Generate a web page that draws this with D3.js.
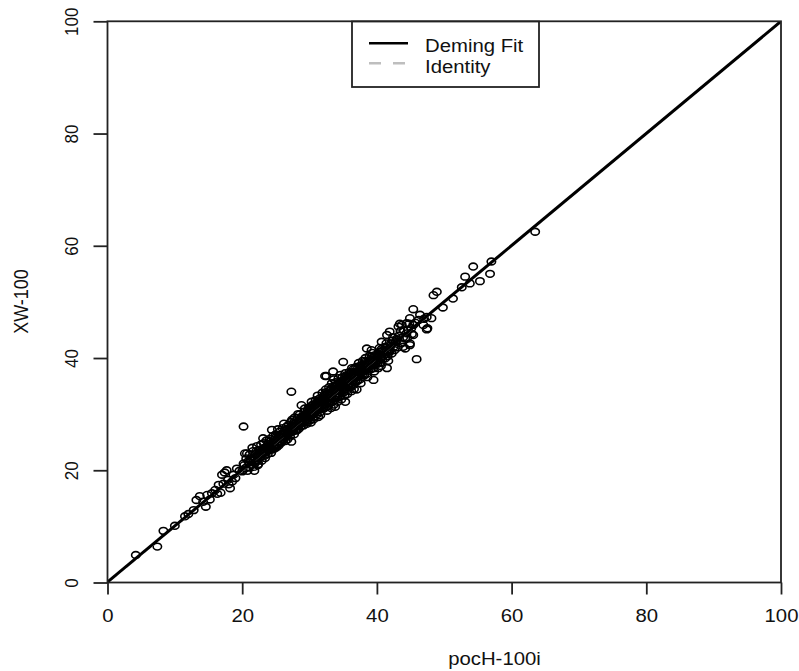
<!DOCTYPE html>
<html><head><meta charset="utf-8">
<script src="https://cdn.jsdelivr.net/npm/d3@7/dist/d3.min.js"></script>
<style>html,body{margin:0;padding:0;background:#fff}svg{display:block}text{font-family:"Liberation Sans",Arial,sans-serif}</style>
</head><body>
<script>
const xTicks = [0, 20, 40, 60, 80, 100];
const yTicks = [0, 20, 40, 60, 80, 100];
const xLabel = "pocH-100i";
const yLabel = "XW-100";
const legendLabels = ["Deming Fit", "Identity"];
const fitIntercept = 0.1;
const fitSlope = 0.999;
const identityLine = [[0, 0], [100, 100]];

const xVals = [
4.2,7.4,8.3,10.0,11.5,12.0,13.2,13.7,14.6,14.8,15.5,16.0,16.5,17.0,17.4,17.9,18.2,17.7,18.7,19.2,15.2,16.3,17.2,18.5,19.0,19.6,14.2,12.8,16.8,18.0,
20.2,20.7,20.4,20.0,20.5,20.9,20.3,20.8,20.1,20.6,20.2,
21.2,21.0,21.4,21.6,21.8,21.3,21.7,21.1,21.9,21.5,21.8,
22.0,22.3,22.5,22.7,22.2,22.9,22.4,22.8,22.6,22.1,22.9,22.3,
23.1,23.0,23.3,23.5,23.7,23.2,23.9,23.4,23.8,23.6,23.1,23.9,
24.4,24.0,24.2,24.5,24.7,24.3,24.9,24.6,24.1,24.8,24.4,24.9,
25.0,25.2,25.4,25.6,25.8,25.1,25.5,25.9,25.3,25.7,25.4,25.9,
26.0,26.2,26.4,26.6,26.8,26.1,26.5,26.9,26.3,26.7,26.9,26.2,
27.3,27.3,27.0,27.2,27.5,27.7,27.9,27.4,27.1,27.6,27.8,27.5,27.9,
28.8,28.0,28.2,28.4,28.6,28.3,28.7,28.9,28.1,28.5,28.8,28.4,
29.0,29.2,29.5,29.7,29.3,29.9,29.6,29.1,29.8,29.4,29.9,
30.0,30.2,30.5,30.7,30.3,30.9,30.6,30.1,30.8,30.4,30.9,30.2,
31.0,31.3,31.5,31.7,31.2,31.9,31.6,31.1,31.8,31.4,31.9,31.3,
32.5,32.3,32.0,32.2,32.5,32.7,32.4,32.9,32.6,32.1,32.8,32.3,32.9,32.7,
33.5,33.8,33.0,33.2,33.4,33.7,33.3,33.9,33.6,33.1,33.8,33.4,33.9,33.2,33.6,
34.0,34.2,34.4,34.6,34.3,34.9,34.7,34.1,34.8,34.5,34.9,34.2,34.6,
35.0,35.3,35.0,35.2,35.5,35.7,35.3,35.9,35.6,35.1,35.8,35.4,35.9,35.2,
37.0,36.0,36.2,36.5,36.7,36.3,36.9,36.6,36.1,36.8,36.4,36.9,36.2,
37.0,37.2,37.5,37.7,37.3,37.9,37.6,37.1,37.8,37.4,37.9,
38.5,38.0,38.2,38.5,38.7,38.3,38.9,38.6,38.1,38.8,38.4,38.9,
39.2,39.5,39.0,39.2,39.5,39.7,39.3,39.9,39.6,39.1,39.8,39.4,
40.7,40.2,40.0,40.3,40.5,40.7,40.4,40.9,40.6,40.1,40.8,
41.9,41.5,41.9,41.2,41.5,41.0,41.3,41.6,41.8,41.4,41.7,
42.0,42.3,42.6,42.8,42.4,42.9,42.2,
43.4,43.2,43.7,43.0,43.3,43.6,43.9,43.5,43.9,43.1,
44.4,44.8,44.4,44.9,44.2,44.9,44.2,44.9,44.0,44.6,44.5,
45.4,45.4,45.2,45.4,45.9,45.7,45.1,
46.4,47.4,48.1,46.9,47.5,47.4,46.2,47.0,
48.9,48.4,49.8,51.3,52.6,53.1,53.8,54.3,55.3,56.8,57.0,63.5
];
const yVals = [
4.9,6.4,9.2,10.1,11.8,12.2,14.7,15.4,13.5,15.6,15.9,16.5,17.4,19.2,19.6,18.3,16.8,20.0,19.2,20.3,14.8,15.8,17.6,18.0,18.6,19.9,14.4,12.9,16.0,17.5,
21.2,23.0,23.0,19.8,20.4,21.6,20.9,19.9,20.0,22.1,27.8,
22.1,20.5,21.0,23.4,22.2,21.7,20.6,22.8,21.3,24.0,19.9,
22.9,21.8,23.6,22.3,24.3,23.1,21.1,24.6,22.9,23.4,21.7,20.9,
25.7,23.4,22.6,24.1,23.5,24.8,24.7,22.2,22.9,25.3,23.9,23.8,
27.2,24.4,25.1,23.7,24.9,23.1,25.8,26.1,25.6,23.9,24.6,24.3,
26.4,25.0,24.4,26.9,25.5,24.1,25.9,26.4,27.3,24.8,26.2,25.1,
27.5,26.0,25.2,27.8,26.5,25.6,26.7,28.1,27.0,25.5,26.9,28.3,
34.0,25.1,27.2,28.6,27.6,26.4,28.3,29.0,26.0,28.0,29.4,26.9,27.1,
31.6,28.5,29.3,27.4,28.9,30.0,27.8,29.6,27.1,29.9,28.4,28.1,
29.3,30.4,28.6,29.9,31.0,30.5,28.3,28.0,29.2,29.7,31.2,
30.1,31.4,29.4,30.8,32.2,31.6,29.1,28.9,30.2,30.6,32.5,28.5,
31.2,32.4,30.3,31.8,33.3,32.6,29.8,30.0,31.1,31.5,33.8,29.5,
36.8,36.8,32.2,33.5,31.3,32.9,34.4,33.5,30.6,31.0,32.0,32.6,34.8,31.4,
37.6,31.3,33.3,34.5,32.3,34.0,35.5,34.5,31.7,32.1,33.1,33.7,35.7,31.1,36.2,
34.3,35.5,33.2,34.9,36.4,35.4,32.6,33.0,34.1,34.6,36.6,32.2,37.0,
39.3,32.2,35.2,36.4,34.2,35.8,37.3,36.4,33.6,34.0,35.1,35.5,37.5,33.3,
34.4,36.2,37.4,35.2,36.8,38.2,37.4,34.5,35.0,36.0,36.5,38.4,34.1,
37.1,38.3,36.2,37.8,39.1,38.4,35.5,36.0,37.0,37.4,39.5,
41.7,38.1,39.3,37.2,38.8,40.0,39.4,36.6,37.0,38.0,38.5,40.4,
41.4,36.1,39.1,40.2,38.2,39.7,40.9,40.4,37.6,38.0,38.9,39.4,
42.9,38.2,40.1,41.1,39.2,40.6,41.8,41.3,38.6,39.0,39.8,
44.7,44.1,41.1,39.9,38.2,41.0,42.0,40.3,41.6,42.6,39.5,
42.2,43.1,41.4,42.8,43.7,43.4,40.8,
46.1,45.6,45.9,43.2,44.0,42.6,43.7,44.8,42.0,41.9,
46.2,46.1,44.4,42.6,41.7,47.1,43.5,42.3,44.9,45.0,43.6,
48.7,45.9,44.3,44.1,39.8,46.3,45.3,
47.7,47.3,47.1,45.9,45.3,45.1,46.8,47.0,
51.8,51.2,49.0,50.6,52.6,54.5,53.3,56.3,53.7,55.0,57.2,62.5
];
// additional points in the dense core of the cloud
const coreX = [
21.1,21.6,22.0,22.4,22.8,23.0,23.3,23.6,24.0,24.3,24.6,24.9,25.2,25.5,25.8,26.1,26.4,26.7,27.0,27.3,27.6,27.9,28.2,28.5,28.8,29.1,29.4,29.7,30.0,30.3,30.6,30.9,31.2,31.5,31.8,32.1,32.4,32.7,33.0,33.3,33.6,33.9,34.2,34.5,34.8,35.1,35.4,35.7,36.0,36.3,36.6,36.9,37.2,37.5,37.8,38.1,38.4,38.7,39.0,39.3,39.6,39.9,40.2,40.5,40.8,41.1,41.4,41.7,42.1,42.5,
22.2,22.7,23.2,23.7,24.2,24.7,25.2,25.7,26.2,26.7,27.2,27.7,28.2,28.7,29.2,29.7,30.2,30.7,31.2,31.7,32.2,32.7,33.2,33.7,34.2,34.7,35.2,35.7,36.2,36.7,37.2,37.7,38.2,38.7,39.2,39.7,40.2,40.7,
30.1,31.0,32.0,33.0,34.0,35.0,36.0,34.5,35.5,33.5,32.5,31.5,30.5,36.5,37.5,34.1,35.1,36.1,33.1,32.1,37.1,38.1
];
const coreY = [
21.4,21.9,21.5,22.8,22.5,22.9,23.8,23.2,23.6,24.0,24.4,25.2,25.7,24.9,26.0,26.5,26.1,27.1,26.6,27.5,27.2,28.0,28.1,28.6,29.0,29.4,28.9,30.2,29.7,30.4,30.9,30.5,31.6,31.2,32.1,31.8,32.9,32.3,33.5,33.0,34.1,33.4,34.6,34.0,35.2,34.7,35.9,35.3,36.6,35.9,37.1,36.6,37.6,37.0,38.3,37.8,38.9,38.3,39.6,39.0,40.1,39.5,40.7,40.1,41.3,40.7,41.8,41.2,42.6,42.0,
22.6,23.3,23.1,24.3,23.9,25.4,24.6,26.3,25.9,27.4,26.9,28.5,27.8,29.3,28.7,30.6,29.9,31.4,30.7,32.5,31.7,33.6,32.8,34.8,33.7,35.6,34.9,36.7,35.6,37.5,36.8,38.7,38.0,39.5,38.7,40.5,39.6,41.6,
31.0,32.0,33.0,34.2,35.0,36.0,37.2,35.6,36.8,34.9,33.9,32.8,31.7,38.0,38.6,32.9,33.9,34.8,32.0,31.0,35.9,36.9
];

const W = 799, H = 671;
const SX = 1.13; // horizontal glyph stretch seen in the reference
const svg = d3.select("body").append("svg").attr("width", W).attr("height", H);
const x = d3.scaleLinear().domain([0, 100]).range([107.5, 781]);
const y = d3.scaleLinear().domain([0, 100]).range([582.5, 21.3]);
const ink = "#222";

svg.append("clipPath").attr("id", "plotclip").append("rect")
  .attr("x", x(0)).attr("y", y(100)).attr("width", x(100) - x(0)).attr("height", y(0) - y(100));

// points
const pts = xVals.map((v, i) => [v, yVals[i]]).concat(coreX.map((v, i) => [v, coreY[i]]));
svg.append("g").selectAll("ellipse").data(pts).join("ellipse")
  .attr("cx", d => x(d[0])).attr("cy", d => y(d[1]))
  .attr("rx", 4.2).attr("ry", 3.4)
  .attr("fill", "none").attr("stroke", "#000").attr("stroke-width", 1.6);

// identity (dashed grey) then Deming fit
const line = d3.line().x(d => x(d[0])).y(d => y(d[1]));
const lines = svg.append("g").attr("clip-path", "url(#plotclip)");
lines.append("path").attr("d", line(identityLine))
  .attr("stroke", "#bebebe").attr("stroke-width", 2.4).attr("stroke-dasharray", "12,12").attr("fill", "none");
const fitLine = [[0, fitIntercept], [100, fitIntercept + fitSlope * 100]];
lines.append("path").attr("d", line(fitLine))
  .attr("stroke", "#000").attr("stroke-width", 3).attr("fill", "none");

// box
svg.append("rect").attr("x", x(0)).attr("y", y(100))
  .attr("width", x(100) - x(0)).attr("height", y(0) - y(100))
  .attr("fill", "none").attr("stroke", ink).attr("stroke-width", 1.8);

// axes
const xa = svg.append("g").attr("transform", `translate(0,${y(0)})`)
  .call(d3.axisBottom(x).tickValues(xTicks).tickSize(12).tickSizeOuter(0).tickFormat(d3.format("d")));
const ya = svg.append("g").attr("transform", `translate(${x(0)},0)`)
  .call(d3.axisLeft(y).tickValues(yTicks).tickSize(14).tickSizeOuter(0).tickFormat(d3.format("d")));
[xa, ya].forEach(a => {
  a.select(".domain").remove();
  a.selectAll(".tick line").attr("stroke", ink).attr("stroke-width", 1.8);
});
xa.selectAll(".tick text")
  .attr("y", null).attr("dy", null)
  .attr("transform", `translate(0,${622 - y(0)}) scale(${SX},1)`)
  .attr("font-size", 18).attr("fill", "#111").attr("font-family", '"Liberation Sans", Arial, sans-serif')
  .attr("text-anchor", "middle");
ya.selectAll(".tick text")
  .attr("x", null).attr("dy", null)
  .attr("transform", `translate(${78 - x(0)},0) scale(${SX},1) rotate(-90)`)
  .attr("font-size", 17).attr("fill", "#111").attr("font-family", '"Liberation Sans", Arial, sans-serif')
  .attr("text-anchor", "middle");

// axis titles
svg.append("text").text(xLabel)
  .attr("transform", `translate(494.5,665) scale(${SX},1)`)
  .attr("text-anchor", "middle").attr("font-size", 18).attr("fill", "#111");
svg.append("text").text(yLabel)
  .attr("transform", `translate(28,301.5) scale(${SX},1) rotate(-90)`)
  .attr("text-anchor", "middle").attr("font-size", 18).attr("fill", "#111");

// legend
const lg = svg.append("g");
lg.append("rect").attr("x", 352).attr("y", 21.5).attr("width", 187).attr("height", 65.5)
  .attr("fill", "#fff").attr("stroke", ink).attr("stroke-width", 1.8);
const legendStyles = [
  { stroke: "#000", dash: null, ly: 43.3, ty: 51.5 },
  { stroke: "#bebebe", dash: "12,12", ly: 63.3, ty: 73 }
];
legendLabels.forEach((lab, i) => {
  const s = legendStyles[i];
  lg.append("line").attr("x1", 369).attr("x2", 408).attr("y1", s.ly).attr("y2", s.ly)
    .attr("stroke", s.stroke).attr("stroke-width", 2.6).attr("stroke-dasharray", s.dash);
  lg.append("text").text(lab).attr("transform", `translate(425,${s.ty}) scale(${SX},1)`)
    .attr("font-size", 18).attr("fill", "#111");
});
</script>
</body></html>
